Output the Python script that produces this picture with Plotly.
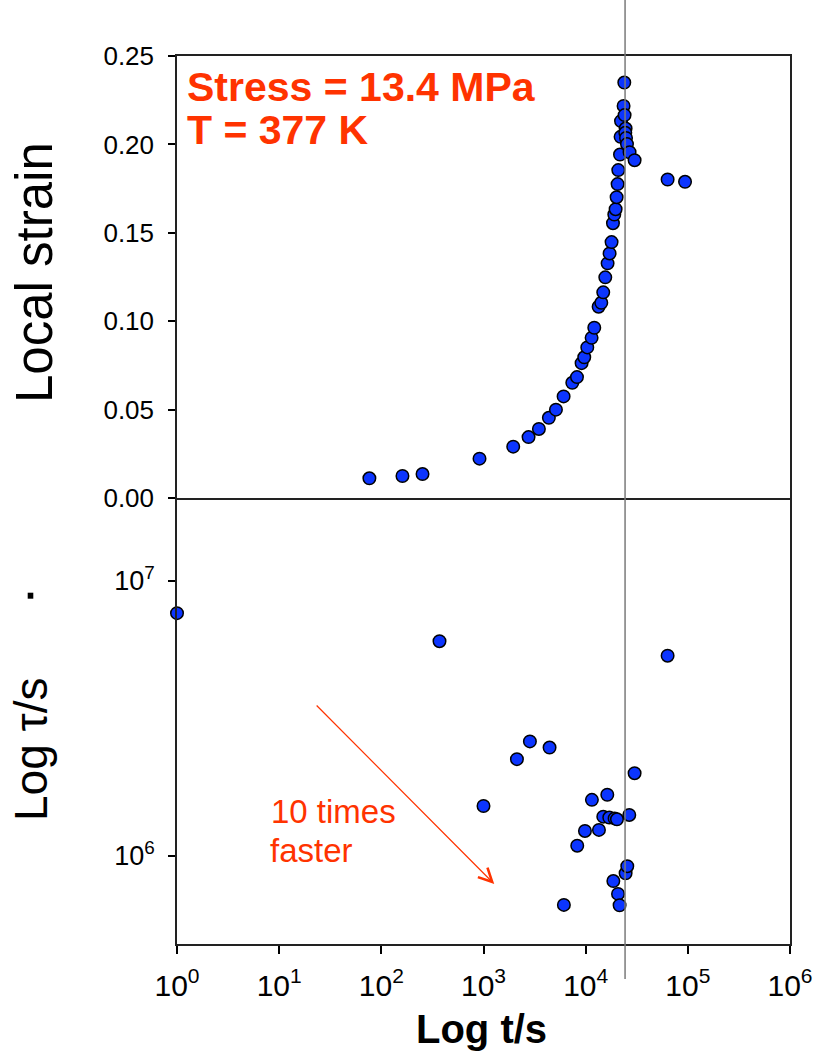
import plotly.graph_objects as go
import math

# ---- data ----
t_strain = [76.4, 161, 253, 914, 1954, 2761, 3485, 4364, 5117, 6081, 7398, 8221,
            9122, 9685, 10370, 11430, 12140, 13390, 14220, 14860, 15560, 16390,
            17150, 17930, 18500, 19060, 19640, 20090, 20540, 20860, 21680, 21960,
            22180, 23500, 23880, 24040, 24600, 24430, 24830, 25370, 26900, 30130,
            63400, 93900]
strain = [0.0113, 0.0126, 0.0137, 0.0224, 0.0292, 0.0346, 0.0392, 0.0455, 0.0501,
          0.0576, 0.0653, 0.0685, 0.0764, 0.0797, 0.0853, 0.0907, 0.0964, 0.1083,
          0.1105, 0.1164, 0.1249, 0.1328, 0.1384, 0.1448, 0.1555, 0.1604, 0.1634,
          0.1702, 0.1776, 0.1855, 0.1943, 0.2043, 0.2132, 0.2218, 0.2350, 0.2166,
          0.2090, 0.2066, 0.2037, 0.2002, 0.1956, 0.1911, 0.1802, 0.1789]

t_tau = [1, 371, 1000, 2124, 2846, 4433, 6120, 8270, 9840, 11510, 13490, 14870,
         16280, 17020, 18660, 19190, 20250, 20730, 21480, 24600, 25540, 26720,
         30130, 63400]
tau = [7.64e6, 6.04e6, 1.52e6, 2.25e6, 2.61e6, 2.48e6, 6.64e5, 1.09e6, 1.233e6,
       1.60e6, 1.244e6, 1.39e6, 1.67e6, 1.38e6, 8.11e5, 1.37e6, 1.36e6, 7.28e5,
       6.62e5, 8.65e5, 9.18e5, 1.41e6, 2.00e6, 5.35e6]

t_failure = 24300          # vertical reference line
arrow_from = (22.5, 3.57e6)
arrow_to = (1274, 7.91e5)

x_tick_exp = [0, 1, 2, 3, 4, 5, 6]
strain_ticks = [0.00, 0.05, 0.10, 0.15, 0.20, 0.25]
tau_tick_exp = [6, 7]

# ---- styling ----
W, H = 814, 1055
FONT = "Arial, 'Liberation Sans', sans-serif"
RED = "#ff3300"
BLUE = "#0c35ff"
LINE = "#222222"

def px(x):
    return x / W

def py(y):
    return 1 - y / H

xdom = [px(177), px(790)]
ytop = [py(498.3), py(56)]
ybot = [py(944), py(498.3)]

marker = dict(size=12.5, color=BLUE, line=dict(color="black", width=1.5))

fig = go.Figure()
fig.add_trace(go.Scatter(x=t_strain, y=strain, mode="markers", xaxis="x2", yaxis="y",
                         marker=marker, cliponaxis=False, showlegend=False))
fig.add_trace(go.Scatter(x=t_tau, y=tau, mode="markers", xaxis="x", yaxis="y2",
                         marker=marker, cliponaxis=False, showlegend=False))

axis_common = dict(showgrid=False, zeroline=False, showline=True, linecolor=LINE,
                   linewidth=1.5, tickcolor="black", tickwidth=1.5, automargin=False)

fig.update_layout(
    width=W, height=H, margin=dict(l=0, r=0, t=0, b=0, pad=0, autoexpand=False),
    paper_bgcolor="white", plot_bgcolor="white",
    font=dict(family=FONT, color="black"),
    xaxis=dict(domain=xdom, type="log", range=[0, 6], anchor="y2", mirror=False,
               tickvals=[10 ** k for k in x_tick_exp],
               ticktext=[f"10<sup>{k}</sup>" for k in x_tick_exp],
               ticks="outside", ticklen=8, tickfont=dict(size=30),
               ticklabelstandoff=6, **axis_common),
    xaxis2=dict(domain=xdom, type="log", range=[0, 6], anchor="y", matches="x",
                mirror=True, showticklabels=False, ticks="", **axis_common),
    yaxis=dict(domain=ytop, range=[0, 0.25], anchor="x2", mirror=True,
               tickvals=strain_ticks, ticktext=[f"{v:.2f}" for v in strain_ticks],
               ticks="outside", ticklen=7, tickfont=dict(size=26),
               ticklabelstandoff=9, **axis_common),
    yaxis2=dict(domain=ybot, type="log", range=[5.68, 7.3007], anchor="x", mirror=True,
                tickvals=[10 ** k for k in tau_tick_exp],
                ticktext=[f"10<sup>{k}</sup>" for k in tau_tick_exp],
                ticks="outside", ticklen=7, tickfont=dict(size=27),
                ticklabelstandoff=8, **axis_common),
)

fig.add_shape(type="line", xref="x", yref="paper", x0=t_failure, x1=t_failure,
              y0=py(979), y1=1, line=dict(color="#7a7a7a", width=1.5), layer="above")
fig.add_shape(type="rect", xref="paper", yref="paper", x0=px(27.7), x1=px(33.3),
              y0=py(598.7), y1=py(592.7), fillcolor="black", line=dict(width=0))

ann = []
ann.append(dict(text="<b>Stress = 13.4 MPa</b>", xref="paper", yref="paper",
                x=px(185), y=py(87), xanchor="left", yanchor="middle", showarrow=False,
                font=dict(size=41, color=RED, family=FONT)))
ann.append(dict(text="<b>T = 377 K</b>", xref="paper", yref="paper",
                x=px(185), y=py(130), xanchor="left", yanchor="middle", showarrow=False,
                font=dict(size=41, color=RED, family=FONT)))
ann.append(dict(text="10 times", xref="paper", yref="paper",
                x=px(269), y=py(811), xanchor="left", yanchor="middle", showarrow=False,
                font=dict(size=33, color=RED, family=FONT)))
ann.append(dict(text="faster", xref="paper", yref="paper",
                x=px(268), y=py(850), xanchor="left", yanchor="middle", showarrow=False,
                font=dict(size=33, color=RED, family=FONT)))
ann.append(dict(text="", xref="x", yref="y2",
                x=math.log10(arrow_to[0]), y=math.log10(arrow_to[1]),
                axref="x", ayref="y2",
                ax=math.log10(arrow_from[0]), ay=math.log10(arrow_from[1]),
                showarrow=True, arrowhead=5, arrowsize=2.2, arrowwidth=1.2,
                arrowcolor=RED, standoff=0, startstandoff=0))
ann.append(dict(text="<b>Log t/s</b>", xref="paper", yref="paper",
                x=px(482), y=py(1029), xanchor="center", yanchor="middle",
                showarrow=False, font=dict(size=40, family=FONT)))
ann.append(dict(text="Local strain", xref="paper", yref="paper", textangle=-90,
                x=px(34), y=py(273), xanchor="center", yanchor="middle",
                showarrow=False, font=dict(size=51, family=FONT)))
ann.append(dict(text="Log τ/s", xref="paper", yref="paper", textangle=-90,
                x=px(31), y=py(750), xanchor="center", yanchor="middle",
                showarrow=False, font=dict(size=46, family=FONT)))
fig.update_layout(annotations=ann)

fig.write_html("out.html")
